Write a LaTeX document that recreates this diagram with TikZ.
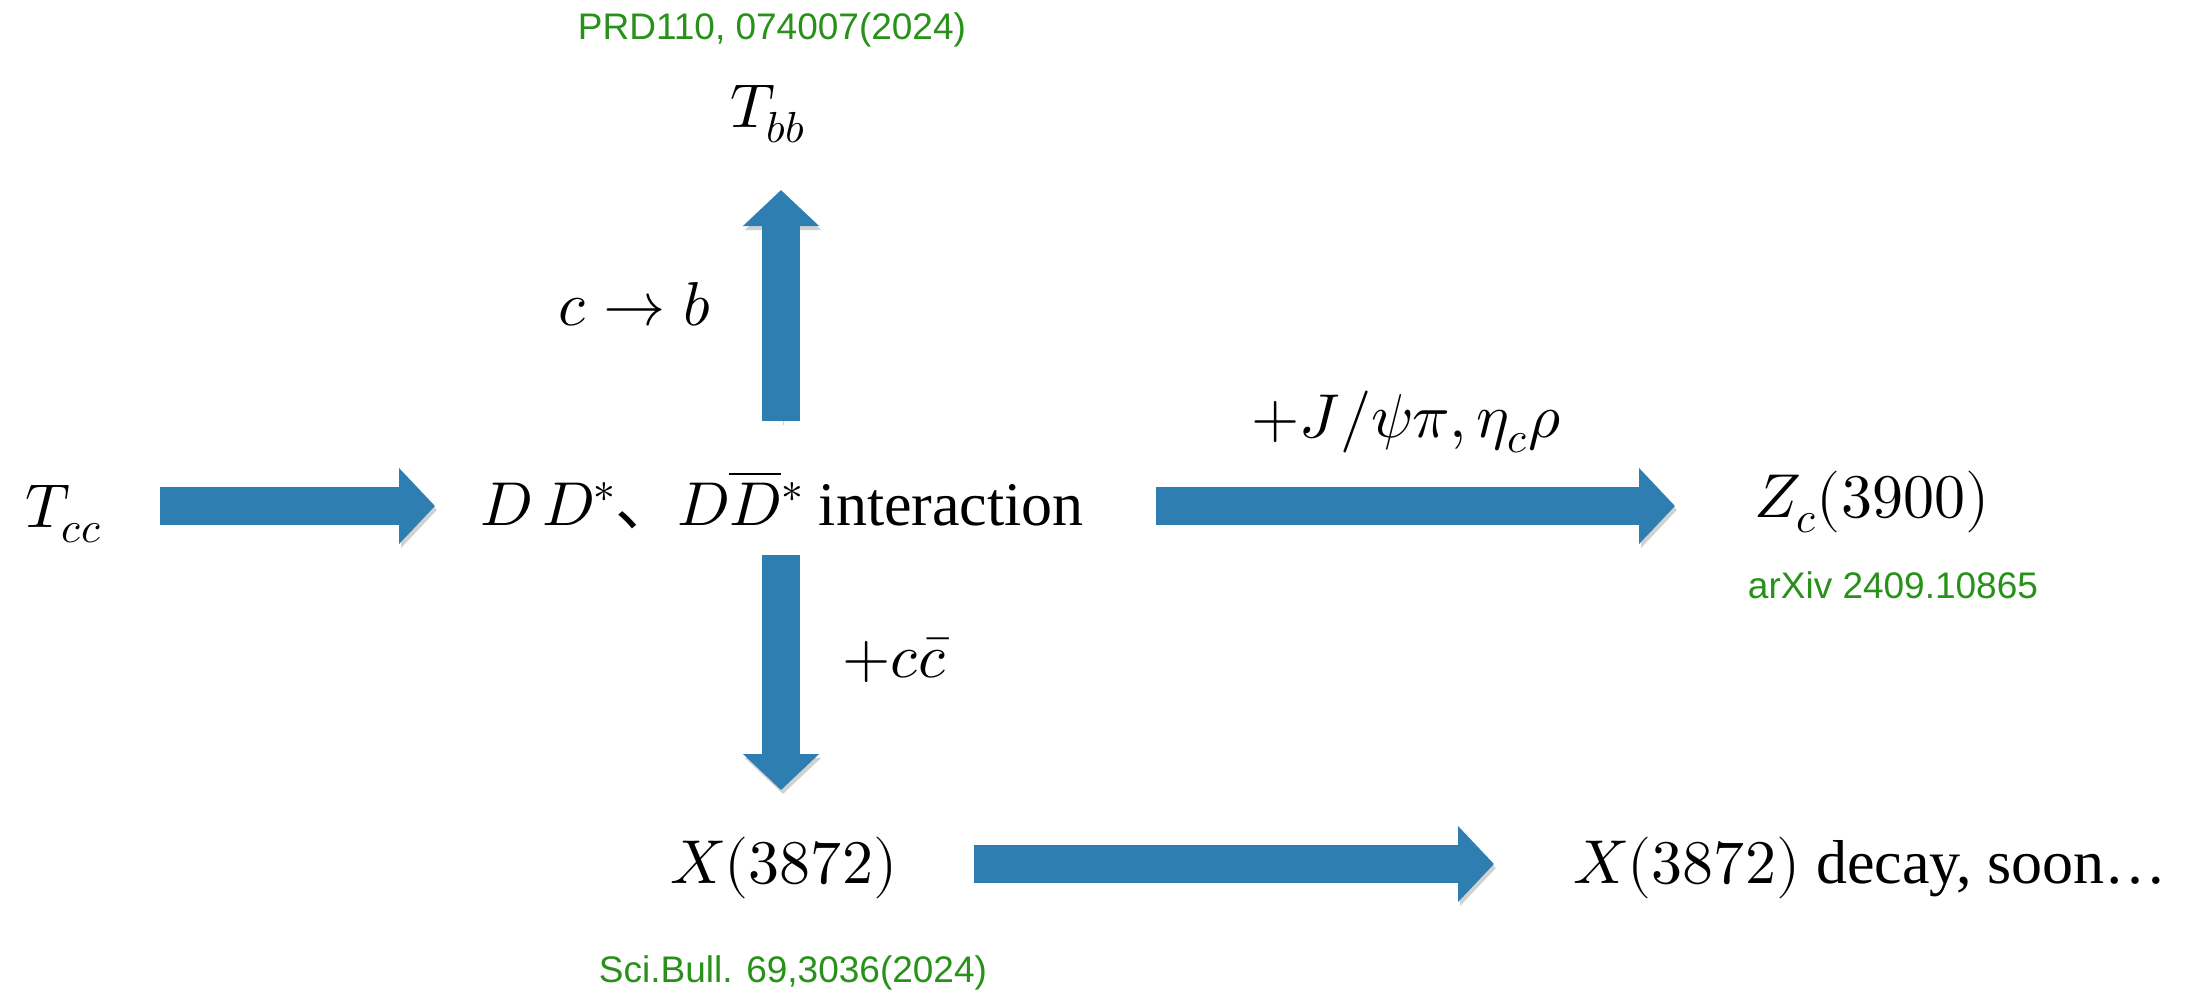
\documentclass[tikz,border=0pt]{standalone}
\usepackage{fontspec}
\usepackage{unicode-math}
\setmainfont{Liberation Serif}
\setmathfont{Latin Modern Math}
\newfontfamily\greenfont{Liberation Sans}
\newfontfamily\cjk{Noto Sans CJK SC}
\usetikzlibrary{arrows.meta}
\definecolor{arrowblue}{RGB}{47,126,178}
\definecolor{refgreen}{RGB}{40,145,25}
\begin{document}
\begin{tikzpicture}[x=1pt,y=-1pt,
  main/.style={inner sep=0pt, anchor=base west, font=\fontsize{62}{70}\selectfont},
  refnote/.style={inner sep=0pt, font=\greenfont\fontsize{37}{40}\selectfont, text=refgreen},
  fat/.style={draw=arrowblue, line width=38pt, -{Triangle[width=74pt,length=36pt]},
    preaction={draw=black, opacity=0.18, transform canvas={xshift=2pt,yshift=-4pt}}}
]
\useasboundingbox (0,0) rectangle (2203,991);
\node[main] (tcc) at (25,527) {$T_{cc}$};
\node[main] (dd) at (480,525) {$D\,D^*${\cjk 、}$D\overline{D}{}^*$ interaction};
\node[main] (tbb) at (730,127) {$T_{bb}$};
\node[main] (cb) at (558,325) {$c\rightarrow b$};
\node[main] (zc) at (1754,517) {$Z_c(3900)$};
\node[main] (jpsi) at (1251,437) {$+J/\psi\pi,\eta_c\rho$};
\node[main] (ccbar) at (842,677) {$+c\bar{c}$};
\node[main] (x) at (670,883) {$X(3872)$};
\node[main] (decay) at (1573,883) {$X(3872)$ decay, soon…};
\node[refnote] (prd) at (772,30) {PRD110, 074007(2024)};
\node[refnote] (arxiv) at (1893,585) {arXiv 2409.10865};
\node[refnote] (sci) at (793,973) {Sci.Bull. 69,3036(2024)};
\draw[fat] ([xshift=135pt,yshift=21pt]tcc.base west) -- ([xshift=-45pt,yshift=19pt]dd.base west);
\draw[fat] ([xshift=301pt,yshift=104pt]dd.base west) -- ([xshift=51pt,yshift=-63pt]tbb.base west);
\draw[fat] ([xshift=301pt,yshift=-30pt]dd.base west) -- ([xshift=111pt,yshift=93pt]x.base west);
\draw[fat] ([xshift=676pt,yshift=19pt]dd.base west) -- ([xshift=-79pt,yshift=11pt]zc.base west);
\draw[fat] ([xshift=304pt,yshift=19pt]x.base west) -- ([xshift=-79pt,yshift=19pt]decay.base west);
\end{tikzpicture}
\end{document}
